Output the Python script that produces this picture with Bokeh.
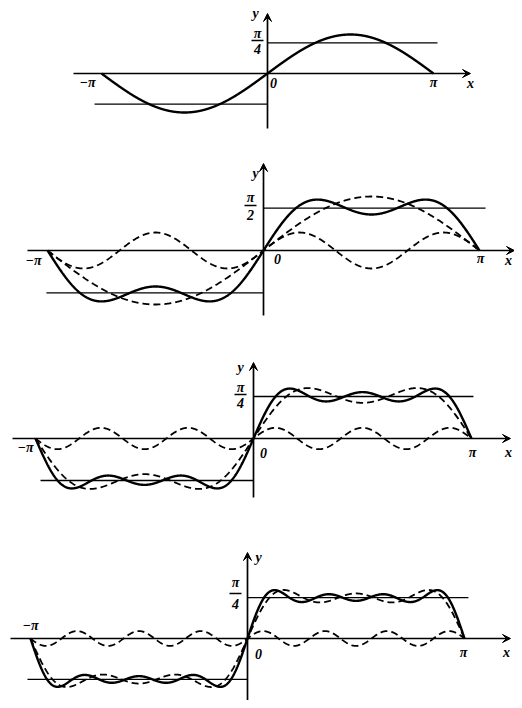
import numpy as np
from bokeh.plotting import figure
from bokeh.layouts import column
from bokeh.models import Range1d, Arrow, VeeHead, ColumnDataSource
from bokeh.core.properties import value
from bokeh.embed import file_html
from bokeh.resources import INLINE

PI = np.pi

# ---- data: Fourier harmonics of the square wave (orders and amplitudes) ----
harmonic_orders = [1, 3, 5, 7]
harmonic_amps = [1.0, 1 / 3, 1 / 5, 1 / 7]
level_value = PI / 4                      # the ±π/4 level lines
fraction_num = ["π", "π", "π", "π"]
fraction_den = ["4", "2", "4", "4"]       # panel 2 is printed as π/2
tick_labels = ["−π", "0", "π"]
axis_names = ["x", "y"]
# number of harmonics summed in the solid curve of each panel
solid_terms = [1, 2, 3, 4]

W = 514
FONT = "Liberation Serif"

# ---- layout / styling per panel (pixel geometry inside each figure) ----
panels = [
    dict(h=150, ox=267, ux=166, oy=73, uy=39,
         lv=(-1.042, 1.024), xa=(73, 470), ya=(128, 13),
         ylab=(255, 13), frac=(257, 33, 40, 48), neg=(87, 82), zero=(273, 82),
         pos=(433, 82), xlab=(470, 83)),
    dict(h=175, ox=263, ux=216, oy=100, uy=54,
         lv=(-1.005, 1.028), xa=(27, 514), ya=(165, 13),
         ylab=(255, 23), frac=(250, 47, 55, 64), neg=(33, 110), zero=(277, 108),
         pos=(480, 108), xlab=(508, 110)),
    dict(h=180, ox=253, ux=218, oy=113, uy=53.5,
         lv=(-0.977, 1.009), xa=(12, 510), ya=(172, 37),
         ylab=(240, 42), frac=(240, 62, 69, 77), neg=(25, 122), zero=(263, 127),
         pos=(472, 127), xlab=(508, 127)),
    dict(h=195, ox=247, ux=217, oy=133, uy=52,
         lv=(-1.014, 1.018), xa=(10, 510), ya=(195, 47),
         ylab=(258, 52), frac=(235, 77, 88, 98), neg=(30, 120), zero=(258, 148),
         pos=(463, 147), xlab=(506, 147)),
]

xs = np.linspace(-PI, PI, 1200)


def partial_sum(n):
    y = np.zeros_like(xs)
    for k, a in zip(harmonic_orders[:n], harmonic_amps[:n]):
        y += a * np.sin(k * xs)
    return y


def single(n):
    return harmonic_amps[n - 1] * np.sin(harmonic_orders[n - 1] * xs)


figs = []
for i, cfg in enumerate(panels):
    h, ox, ux, oy, uy = cfg["h"], cfg["ox"], cfg["ux"], cfg["oy"], cfg["uy"]
    px2x = lambda px: (px - ox) / ux * PI
    py2y = lambda py: (oy - py) / uy
    p = figure(width=W, height=h, output_backend="svg", toolbar_location=None,
               x_range=Range1d(px2x(0), px2x(W)), y_range=Range1d(py2y(h), py2y(0)),
               x_axis_type=None, y_axis_type=None, min_border=0)
    p.outline_line_color = None
    p.grid.visible = False
    p.background_fill_color = "white"

    # axes with arrows
    p.add_layout(Arrow(end=VeeHead(size=8, fill_color="black", line_color="black", line_width=1),
                       x_start=px2x(cfg["xa"][0]), y_start=0, x_end=px2x(cfg["xa"][1]), y_end=0,
                       line_width=1.7, line_color="black"))
    p.add_layout(Arrow(end=VeeHead(size=8, fill_color="black", line_color="black", line_width=1),
                       x_start=0, y_start=py2y(cfg["ya"][0]), x_end=0, y_end=py2y(cfg["ya"][1]),
                       line_width=1.7, line_color="black"))

    # level lines ±π/4
    l0, l1 = cfg["lv"]
    p.segment(x0=[0, l0 * PI], y0=[level_value, -level_value],
              x1=[l1 * PI, 0], y1=[level_value, -level_value],
              line_color="black", line_width=1.4)

    n = solid_terms[i]
    if n > 1:
        p.line(xs, partial_sum(n - 1), line_color="black", line_width=1.8, line_dash="7 4")
        p.line(xs, single(n), line_color="black", line_width=1.8, line_dash="7 4")
    p.line(xs, partial_sum(n), line_color="black", line_width=2.4)

    # texts
    fx, fy1, fyb, fy2 = cfg["frac"]
    txt = dict(
        x=[px2x(cfg["neg"][0]), px2x(cfg["zero"][0]), px2x(cfg["pos"][0]),
           px2x(cfg["xlab"][0]), px2x(cfg["ylab"][0]), px2x(fx), px2x(fx)],
        y=[py2y(cfg["neg"][1]), py2y(cfg["zero"][1]), py2y(cfg["pos"][1]),
           py2y(cfg["xlab"][1]), py2y(cfg["ylab"][1]), py2y(fy1), py2y(fy2)],
        t=[tick_labels[0], tick_labels[1], tick_labels[2], axis_names[0], axis_names[1],
           fraction_num[i], fraction_den[i]],
    )
    p.text(x="x", y="y", text="t", source=ColumnDataSource(txt),
           text_font=value(FONT), text_font_style="bold italic", text_font_size="14px",
           text_align="center", text_baseline="middle", text_color="black")
    p.segment(x0=[px2x(fx - 6)], y0=[py2y(fyb)], x1=[px2x(fx + 6)], y1=[py2y(fyb)],
              line_color="black", line_width=1.3)
    figs.append(p)

layout = column(*figs, spacing=0)
open("out.html", "w").write(file_html(layout, INLINE))
